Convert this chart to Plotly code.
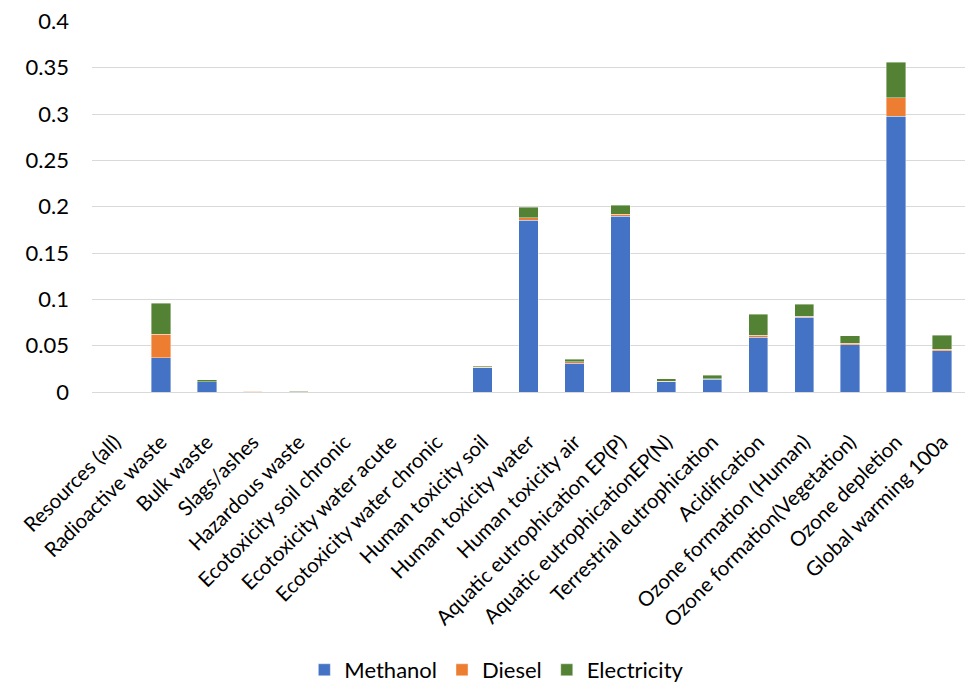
import plotly.graph_objects as go

categories = ["Resources (all)", "Radioactive waste", "Bulk waste", "Slags/ashes", "Hazardous waste",
              "Ecotoxicity soil chronic", "Ecotoxicity water acute", "Ecotoxicity water chronic",
              "Human toxicity soil", "Human toxicity water", "Human toxicity air",
              "Aquatic eutrophication EP(P)", "Aquatic eutrophicationEP(N)", "Terrestrial eutrophication",
              "Acidification", "Ozone formation (Human)", "Ozone formation(Vegetation)",
              "Ozone depletion", "Global warming 100a"]

methanol =    [0, 0.037, 0.011, 0.0, 0.0, 0, 0, 0, 0.026, 0.1854, 0.031, 0.1897, 0.011, 0.0137,
               0.059, 0.0805, 0.051, 0.2978, 0.0445]
diesel =      [0, 0.0255, 0.0003, 0.0006, 0.0002, 0, 0, 0, 0.0005, 0.0026, 0.0017, 0.0023, 0.0007, 0.0005,
               0.0024, 0.0015, 0.0015, 0.0199, 0.0015]
electricity = [0, 0.0335, 0.0017, 0.0002, 0.0008, 0, 0, 0, 0.0015, 0.0115, 0.0026, 0.0096, 0.0026, 0.0041,
               0.0223, 0.0125, 0.0082, 0.0383, 0.0151]

series = [("Methanol", methanol, "#4472C4"), ("Diesel", diesel, "#ED7D31"), ("Electricity", electricity, "#548235")]

fig = go.Figure()
for name, vals, col in series:
    fig.add_trace(go.Bar(x=categories, y=vals, name=name,
                         marker=dict(color=col, line=dict(color="rgba(255,255,255,0.5)", width=0.8))))

font = "Lato, 'Open Sans', sans-serif"
fig.update_layout(
    barmode="stack", bargap=0.58,
    width=968, height=676,
    margin=dict(l=84, r=11, t=13, b=292, autoexpand=False),
    plot_bgcolor="white", paper_bgcolor="white",
    font=dict(family=font, size=21, color="#000000"),
    xaxis=dict(tickangle=-45, showgrid=False, showline=True, linecolor="#d9d9d9", linewidth=1,
               tickfont=dict(size=20.5), automargin=False, ticks="outside", ticklen=29,
               tickcolor="rgba(0,0,0,0)"),
    yaxis=dict(range=[0, 0.4005], tickvals=[0, 0.05, 0.1, 0.15, 0.2, 0.25, 0.3, 0.35, 0.4],
               ticktext=["0", "0.05", "0.1", "0.15", "0.2", "0.25", "0.3", "0.35", "0.4"],
               showgrid=True, gridcolor="#d9d9d9", gridwidth=1, ticklabeloverflow="allow",
               zeroline=False, tickfont=dict(size=22), ticklabelstandoff=22,
               automargin=False),
    legend=dict(orientation="h", xref="container", x=0.505, xanchor="center",
                yref="container", y=0.0207, yanchor="middle",
                font=dict(size=22), traceorder="normal", itemwidth=30),
)
fig.write_html("out.html")
